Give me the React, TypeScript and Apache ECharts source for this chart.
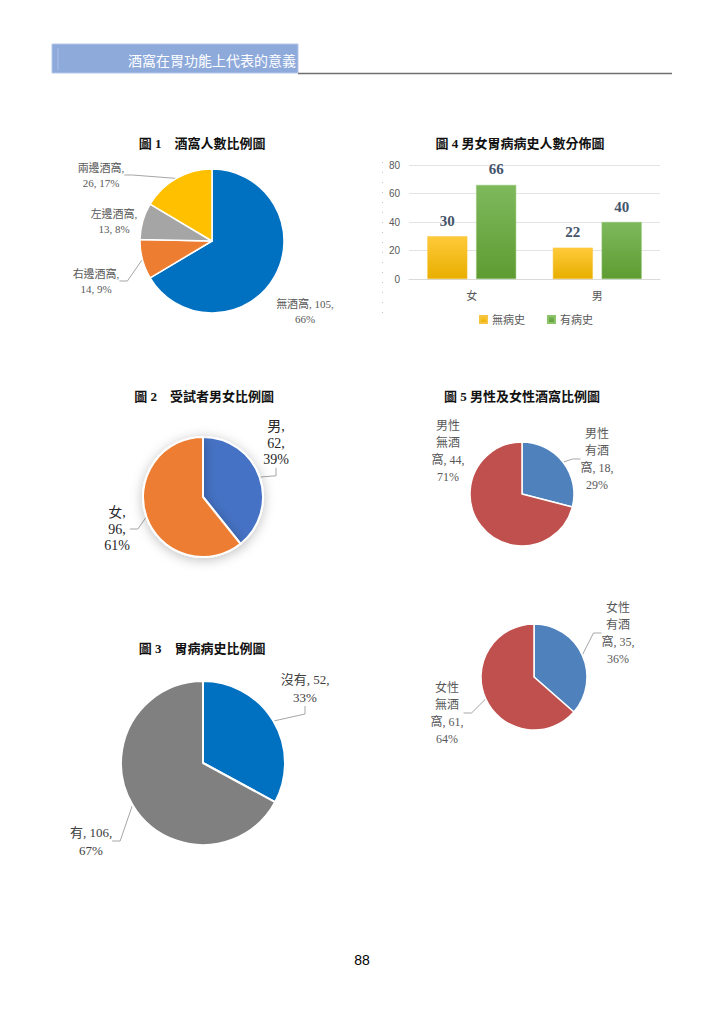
import React, { useEffect, useRef } from 'react';
import * as echarts from 'echarts';

// ---------- data ----------
const dimpleNames = ['無酒窩', '右邊酒窩', '左邊酒窩', '兩邊酒窩'];
const dimpleValues = [105, 14, 13, 26];
const dimplePct = [66, 9, 8, 17];

const genderNames = ['男', '女'];
const genderValues = [62, 96];
const genderPct = [39, 61];

const historyNames = ['沒有', '有'];
const historyValues = [52, 106];
const historyPct = [33, 67];

const barCategories = ['女', '男'];
const barSeriesNames = ['無病史', '有病史'];
const noHistoryValues = [30, 22];
const withHistoryValues = [66, 40];
const barTicks = [0, 20, 40, 60, 80];

const maleDimpleNames = ['男性有酒窩', '男性無酒窩'];
const maleDimpleValues = [18, 44];
const maleDimplePct = [29, 71];

const femaleDimpleNames = ['女性有酒窩', '女性無酒窩'];
const femaleDimpleValues = [35, 61];
const femaleDimplePct = [36, 64];

const headerText = '酒窩在胃功能上代表的意義';
const titles = [
  '圖 1　酒窩人數比例圖',
  '圖 4 男女胃病病史人數分佈圖',
  '圖 2　受試者男女比例圖',
  '圖 5 男性及女性酒窩比例圖',
  '圖 3　胃病病史比例圖',
];
const pageNumber = '88';

// ---------- style ----------
const SERIF = '"Liberation Serif", "Noto Sans CJK TC", serif';
const SANS = '"Liberation Sans", "Noto Sans CJK TC", sans-serif';
const c1Colors = ['#0070C0', '#ED7D31', '#A5A5A5', '#FFC000'];
const c2Colors = ['#4472C4', '#ED7D31'];
const c3Colors = ['#0070C0', '#808080'];
const c5Colors = ['#4F81BD', '#C0504D'];

const titlePos: [number, number][] = [
  [202, 143],
  [520, 143],
  [204, 396],
  [522, 396],
  [202, 648],
];

const mk = (names: string[], values: number[], colors: string[], lines?: boolean[]) =>
  names.map((n, i) => ({
    name: n,
    value: values[i],
    itemStyle: { color: colors[i] },
    labelLine: { show: lines ? lines[i] : true },
  }));

const layoutAt = (pos: [number, number][]) => (p: any) => ({
  x: pos[p.dataIndex][0],
  y: pos[p.dataIndex][1],
  align: 'center',
  verticalAlign: 'middle',
});

const pieBase = (center: [number, number], radius: number) => ({
  type: 'pie',
  center,
  radius,
  startAngle: 90,
  clockwise: true,
  silent: true,
  legendHoverLink: false,
  itemStyle: { borderColor: '#fff', borderWidth: 1.5 },
  labelLine: { show: true, length: 8, length2: 8, lineStyle: { color: '#A6A6A6', width: 1 } },
});

export default function App() {
  const ref = useRef<HTMLDivElement>(null);
  useEffect(() => {
    if (!ref.current) return;
    const chart = echarts.init(ref.current, undefined, { renderer: 'svg' });

    const graphics: any[] = [
      {
        type: 'rect',
        shape: { x: 52, y: 44, width: 246, height: 29 },
        style: { fill: '#8EAADB', stroke: '#B4C7E7', lineWidth: 1 },
      },
      {
        type: 'line',
        shape: { x1: 58, y1: 48, x2: 58, y2: 70 },
        style: { stroke: '#A9BFE6', lineWidth: 1 },
      },
      {
        type: 'line',
        shape: { x1: 298, y1: 73.5, x2: 672, y2: 73.5 },
        style: { stroke: '#6F6F6F', lineWidth: 1.5 },
      },
      {
        type: 'text',
        x: 296,
        y: 61,
        style: {
          text: headerText,
          fill: '#ffffff',
          font: `14px ${SERIF}`,
          textAlign: 'right',
          textVerticalAlign: 'middle',
        },
      },
      {
        type: 'line',
        shape: { x1: 382.5, y1: 162, x2: 382.5, y2: 322 },
        style: { stroke: '#BFBFBF', lineWidth: 1, lineDash: [1, 9] },
      },
      ...titles.map((t, i) => ({
        type: 'text',
        x: titlePos[i][0],
        y: titlePos[i][1],
        style: {
          text: t,
          fill: '#111',
          font: `bold 13px ${SERIF}`,
          textAlign: 'center',
          textVerticalAlign: 'middle',
        },
      })),
      {
        type: 'text',
        x: 362,
        y: 960,
        style: {
          text: pageNumber,
          fill: '#000',
          font: `14px ${SANS}`,
          textAlign: 'center',
          textVerticalAlign: 'middle',
        },
      },
    ];

    const barLabel = {
      show: true,
      position: 'top',
      distance: 8,
      fontSize: 15,
      fontWeight: 'bold',
      color: '#44546A',
      fontFamily: SERIF,
    };

    const option: any = {
      animation: false,
      backgroundColor: '#ffffff',
      graphic: graphics,
      legend: {
        data: barSeriesNames,
        left: 474,
        top: 309,
        itemWidth: 7,
        itemHeight: 7,
        itemGap: 22,
        icon: 'rect',
        textStyle: { fontSize: 11, color: '#595959', fontFamily: SERIF },
        selectedMode: false,
      },
      grid: { left: 409, top: 165, width: 251, height: 114, containLabel: false },
      xAxis: {
        type: 'category',
        data: barCategories,
        axisLine: { lineStyle: { color: '#D9D9D9' } },
        axisTick: { show: false },
        axisLabel: { fontSize: 11, color: '#595959', margin: 11, fontFamily: SERIF },
      },
      yAxis: {
        type: 'value',
        min: barTicks[0],
        max: barTicks[barTicks.length - 1],
        interval: barTicks[1] - barTicks[0],
        axisLine: { show: false },
        axisTick: { show: false },
        splitLine: { lineStyle: { color: '#E4E4E4' } },
        axisLabel: { fontSize: 10, color: '#595959', margin: 9, fontFamily: SANS },
      },
      series: [
        {
          name: barSeriesNames[0],
          type: 'bar',
          data: noHistoryValues,
          barWidth: 40,
          barGap: '22%',
          itemStyle: {
            color: new echarts.graphic.LinearGradient(0, 0, 0, 1, [
              { offset: 0, color: '#FFCA3A' },
              { offset: 1, color: '#E8AE00' },
            ]),
            borderColor: '#F5C542',
            borderWidth: 0.5,
          },
          label: barLabel,
        },
        {
          name: barSeriesNames[1],
          type: 'bar',
          data: withHistoryValues,
          barWidth: 40,
          itemStyle: {
            color: new echarts.graphic.LinearGradient(0, 0, 0, 1, [
              { offset: 0, color: '#7EB95C' },
              { offset: 1, color: '#5E9C32' },
            ]),
            borderColor: '#8CC46A',
            borderWidth: 0.5,
          },
          label: barLabel,
        },
        // 圖 1
        {
          ...pieBase([212, 241], 72),
          data: mk(dimpleNames, dimpleValues, c1Colors, [false, true, false, true]),
          label: {
            position: 'outside',
            fontSize: 11,
            lineHeight: 15,
            color: '#595959',
            fontFamily: SERIF,
            align: 'center',
            formatter: (p: any) =>
              p.dataIndex === 0
                ? `${p.name}, ${p.value},\n${dimplePct[p.dataIndex]}%`
                : `${p.name},\n${p.value}, ${dimplePct[p.dataIndex]}%`,
          },
          labelLayout: layoutAt([
            [305, 311],
            [96, 281],
            [114, 221],
            [101, 175],
          ]),
        },
        // 圖 2
        {
          ...pieBase([203, 497], 60),
          data: mk(genderNames, genderValues, c2Colors),
          itemStyle: {
            borderColor: '#fff',
            borderWidth: 2,
            shadowBlur: 12,
            shadowColor: 'rgba(0,0,0,0.25)',
            shadowOffsetY: 2,
          },
          label: {
            position: 'outside',
            fontSize: 14,
            lineHeight: 16.5,
            color: '#262626',
            fontFamily: SERIF,
            align: 'center',
            formatter: (p: any) => `${p.name},\n${p.value},\n${genderPct[p.dataIndex]}%`,
          },
          labelLayout: layoutAt([
            [276, 443],
            [117, 529],
          ]),
        },
        // 圖 3
        {
          ...pieBase([203, 763], 82),
          data: mk(historyNames, historyValues, c3Colors),
          itemStyle: { borderColor: '#fff', borderWidth: 2 },
          label: {
            position: 'outside',
            fontSize: 13,
            lineHeight: 18,
            color: '#404040',
            fontFamily: SERIF,
            align: 'center',
            formatter: (p: any) => `${p.name}, ${p.value},\n${historyPct[p.dataIndex]}%`,
          },
          labelLayout: layoutAt([
            [305, 688],
            [91, 841],
          ]),
        },
        // 圖 5 男性
        {
          ...pieBase([522, 494], 52),
          data: mk(maleDimpleNames, maleDimpleValues, c5Colors, [true, false]),
          label: {
            position: 'outside',
            fontSize: 12,
            lineHeight: 17,
            color: '#595959',
            fontFamily: SERIF,
            align: 'center',
            formatter: (p: any) =>
              `${p.name.slice(0, 2)}\n${p.name.slice(2, 4)}\n${p.name.slice(4)}, ${p.value},\n${maleDimplePct[p.dataIndex]}%`,
          },
          labelLayout: layoutAt([
            [597, 459],
            [448, 451],
          ]),
        },
        // 圖 5 女性
        {
          ...pieBase([534, 677], 53),
          data: mk(femaleDimpleNames, femaleDimpleValues, c5Colors),
          label: {
            position: 'outside',
            fontSize: 12,
            lineHeight: 17,
            color: '#595959',
            fontFamily: SERIF,
            align: 'center',
            formatter: (p: any) =>
              `${p.name.slice(0, 2)}\n${p.name.slice(2, 4)}\n${p.name.slice(4)}, ${p.value},\n${femaleDimplePct[p.dataIndex]}%`,
          },
          labelLayout: layoutAt([
            [618, 633],
            [447, 713],
          ]),
        },
      ],
    };
    chart.setOption(option);
    return () => chart.dispose();
  }, []);
  return (
    <div
      ref={ref}
      style={{ position: 'absolute', left: 0, top: 0, width: 725, height: 1024 }}
    />
  );
}
